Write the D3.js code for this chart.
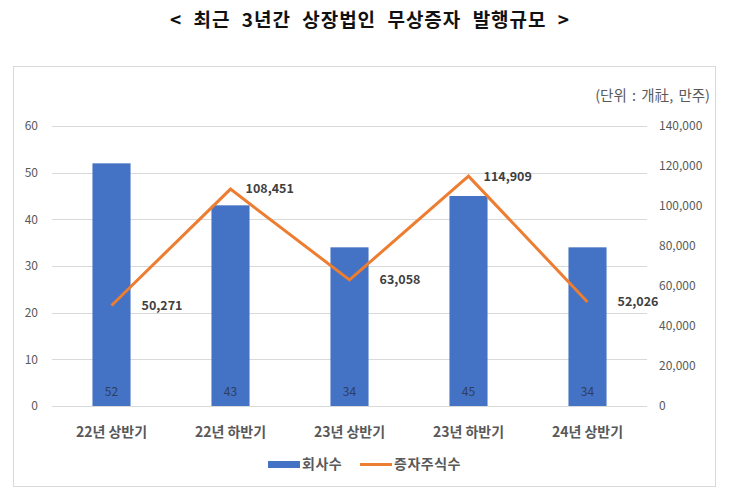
<!DOCTYPE html>
<html>
<head>
<meta charset="utf-8">
<script src="https://cdn.jsdelivr.net/npm/d3@7"></script>
<style>
  body { margin: 0; background: #fff; font-family: "Noto Sans CJK KR", "Noto Sans", sans-serif; }
  .grid-line { stroke: #d9d9d9; stroke-width: 1; }
  .tick-label { fill: #595959; font-size: 12px; }
</style>
</head>
<body>
<div id="chart"></div>
<script>
// Listed-company bonus issue chart - bars (companies) + line (shares)

const categories = ["22년 상반기", "22년 하반기", "23년 상반기", "23년 하반기", "24년 상반기"];
const companies = [52, 43, 34, 45, 34];
const shares = [50271, 108451, 63058, 114909, 52026];
const leftTicks = [0, 10, 20, 30, 40, 50, 60];
const rightTicks = [0, 20000, 40000, 60000, 80000, 100000, 120000, 140000];

const W = 730, H = 497;
const plot = { left: 52, right: 647, top: 126, bottom: 406 };

const svg = d3.select("#chart").append("svg")
    .attr("width", W)
    .attr("height", H);

// Title
svg.append("text")
    .attr("x", 370).attr("y", 27)
    .attr("text-anchor", "middle")
    .style("font-size", "19px")
    .style("font-weight", "bold")
    .style("letter-spacing", "1px")
    .style("word-spacing", "6px")
    .attr("fill", "#111")
    .text("< 최근 3년간 상장법인 무상증자 발행규모 >");

// Chart frame
svg.append("rect")
    .attr("x", 13.5).attr("y", 66.5)
    .attr("width", 702).attr("height", 420)
    .attr("fill", "#fff")
    .attr("stroke", "#d9d9d9");

// Unit note
svg.append("text")
    .attr("x", 710).attr("y", 101)
    .attr("text-anchor", "end")
    .style("font-size", "14.5px")
    .style("word-spacing", "2px")
    .attr("fill", "#595959")
    .text("(단위 : 개社, 만주)");

const x = d3.scaleBand()
    .domain(categories)
    .range([plot.left, plot.right])
    .paddingInner(0.68)
    .paddingOuter(0.34);

const yL = d3.scaleLinear().domain([0, 60]).range([plot.bottom, plot.top]);
const yR = d3.scaleLinear().domain([0, 140000]).range([plot.bottom, plot.top]);

// Grid
svg.append("g")
    .selectAll("line")
    .data(leftTicks)
    .join("line")
    .attr("class", "grid-line")
    .attr("x1", plot.left).attr("x2", plot.right)
    .attr("y1", d => Math.round(yL(d)) + 0.5)
    .attr("y2", d => Math.round(yL(d)) + 0.5);

// Left axis labels
svg.append("g")
    .selectAll("text")
    .data(leftTicks)
    .join("text")
    .attr("class", "tick-label")
    .attr("x", 38)
    .attr("y", d => yL(d))
    .attr("dy", "0.35em")
    .attr("text-anchor", "end")
    .text(d => d);

// Right axis labels
const fmt = d3.format(",");
svg.append("g")
    .selectAll("text")
    .data(rightTicks)
    .join("text")
    .attr("class", "tick-label")
    .attr("x", 659)
    .attr("y", d => yR(d))
    .attr("dy", "0.35em")
    .attr("text-anchor", "start")
    .text(d => fmt(d));

// Bars
svg.append("g")
    .selectAll("rect")
    .data(companies)
    .join("rect")
    .attr("x", (d, i) => x(categories[i]))
    .attr("y", d => yL(d))
    .attr("width", x.bandwidth())
    .attr("height", d => plot.bottom - yL(d))
    .attr("fill", "#4472c4");

// Bar labels
svg.append("g")
    .selectAll("text")
    .data(companies)
    .join("text")
    .attr("x", (d, i) => x(categories[i]) + x.bandwidth() / 2)
    .attr("y", plot.bottom - 14)
    .attr("dy", "0.35em")
    .attr("text-anchor", "middle")
    .style("font-size", "12px")
    .attr("fill", "#2f3f60")
    .text(d => d);

// Line
const cx = i => x(categories[i]) + x.bandwidth() / 2;
svg.append("path")
    .datum(shares)
    .attr("fill", "none")
    .attr("stroke", "#ed7d31")
    .attr("stroke-width", 3)
    .attr("stroke-linejoin", "miter")
    .attr("d", d3.line().x((d, i) => cx(i)).y(d => yR(d)));

// Line labels - peaks sit closer to the point
svg.append("g")
    .selectAll("text")
    .data(shares)
    .join("text")
    .attr("x", (d, i) => {
        const peak = (i === 0 || d > shares[i - 1]) && (i === shares.length - 1 || d > shares[i + 1]);
        return cx(i) + (peak ? 15 : 30);
    })
    .attr("y", (d, i) => yR(d))
    .attr("dy", "0.35em")
    .style("font-size", "12.5px")
    .style("font-weight", "bold")
    .attr("fill", "#404040")
    .text(d => fmt(d));

// Category labels
svg.append("g")
    .selectAll("text")
    .data(categories)
    .join("text")
    .attr("x", d => x(d) + x.bandwidth() / 2)
    .attr("y", 432)
    .attr("dy", "0.35em")
    .attr("text-anchor", "middle")
    .style("font-size", "14px")
    .style("font-weight", "bold")
    .attr("fill", "#595959")
    .text(d => d);

// Legend
const legend = svg.append("g").attr("transform", "translate(0,464)");
legend.append("rect")
    .attr("x", 268).attr("y", -3)
    .attr("width", 32).attr("height", 7)
    .attr("fill", "#4472c4");
legend.append("text")
    .attr("x", 302).attr("y", 0).attr("dy", "0.35em")
    .style("font-size", "14px").style("font-weight", "bold")
    .style("letter-spacing", "0.5px")
    .attr("fill", "#595959")
    .text("회사수");
legend.append("line")
    .attr("x1", 360).attr("x2", 392)
    .attr("y1", 0.5).attr("y2", 0.5)
    .attr("stroke", "#ed7d31").attr("stroke-width", 3);
legend.append("text")
    .attr("x", 394).attr("y", 0).attr("dy", "0.35em")
    .style("font-size", "14px").style("font-weight", "bold")
    .style("letter-spacing", "0.5px")
    .attr("fill", "#595959")
    .text("증자주식수");
</script>
</body>
</html>
